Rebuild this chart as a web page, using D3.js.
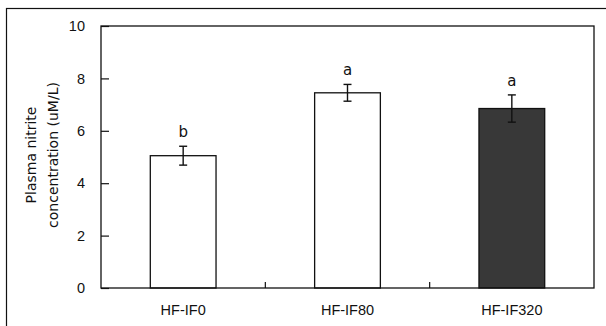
<!DOCTYPE html>
<html>
<head>
<meta charset="utf-8">
<script src="https://cdn.jsdelivr.net/npm/d3@7"></script>
<style>
  html, body { margin: 0; padding: 0; background: #fff; }
  svg { display: block; }
  text { font-family: "Liberation Sans", Arial, sans-serif; fill: #111; }
</style>
</head>
<body>
<script>
// ---- data ----
const categories = ["HF-IF0", "HF-IF80", "HF-IF320"];
const values = [5.05, 7.45, 6.85];
const errors = [0.36, 0.32, 0.52];
const letters = ["b", "a", "a"];
const fills = ["#ffffff", "#ffffff", "#383838"];
const yTicks = [0, 2, 4, 6, 8, 10];
const yLabelLines = ["Plasma nitrite", "concentration (uM/L)"];

// ---- layout ----
const W = 606, H = 326;
const margin = { left: 101, top: 26, right: 12, bottom: 38 };
const plotW = W - margin.left - margin.right; // 493
const plotH = H - margin.top - margin.bottom; // 262

const svg = d3.select("body").append("svg")
  .attr("width", W).attr("height", H);

// outer frame (right & bottom run off the picture)
svg.append("rect")
  .attr("x", 6.5).attr("y", 8.5)
  .attr("width", 610).attr("height", 340)
  .attr("fill", "none").attr("stroke", "#111").attr("stroke-width", 1.2);

const g = svg.append("g").attr("transform", `translate(${margin.left},${margin.top})`);

const x = d3.scaleBand().domain(categories).range([0, plotW]).paddingInner(0.6).paddingOuter(0.3);
const y = d3.scaleLinear().domain([0, 10]).range([plotH, 0]);

// bars
g.selectAll("rect.bar").data(categories).join("rect")
  .attr("class", "bar")
  .attr("x", d => x(d))
  .attr("y", (d, i) => y(values[i]))
  .attr("width", x.bandwidth())
  .attr("height", (d, i) => plotH - y(values[i]))
  .attr("fill", (d, i) => fills[i])
  .attr("stroke", "#111").attr("stroke-width", 1.3);

// error bars
const capW = 8;
const eb = g.selectAll("g.err").data(categories).join("g").attr("class", "err")
  .attr("transform", d => `translate(${x(d) + x.bandwidth() / 2},0)`);
eb.append("line")
  .attr("y1", (d, i) => y(values[i] + errors[i]))
  .attr("y2", (d, i) => y(values[i] - errors[i]))
  .attr("stroke", "#111").attr("stroke-width", 1.4);
eb.append("line")
  .attr("x1", -capW / 2).attr("x2", capW / 2)
  .attr("y1", (d, i) => y(values[i] + errors[i]))
  .attr("y2", (d, i) => y(values[i] + errors[i]))
  .attr("stroke", "#111").attr("stroke-width", 1.4);
eb.append("line")
  .attr("x1", -capW / 2).attr("x2", capW / 2)
  .attr("y1", (d, i) => y(values[i] - errors[i]))
  .attr("y2", (d, i) => y(values[i] - errors[i]))
  .attr("stroke", "#111").attr("stroke-width", 1.4);
eb.append("text")
  .attr("y", (d, i) => y(values[i] + errors[i]) - 9)
  .attr("text-anchor", "middle")
  .style("font-family", '"DejaVu Sans", sans-serif')
  .style("font-size", "15px")
  .text((d, i) => letters[i]);

// plot frame
g.append("rect")
  .attr("x", 0).attr("y", 0).attr("width", plotW).attr("height", plotH)
  .attr("fill", "none").attr("stroke", "#111").attr("stroke-width", 1.3);

// y axis
const yAxis = d3.axisLeft(y).tickValues(yTicks).tickFormat(d3.format("d"))
  .tickSizeInner(-8).tickSizeOuter(0).tickPadding(16);
const ya = g.append("g").call(yAxis);
ya.select(".domain").remove();
ya.selectAll("line").attr("stroke", "#111").attr("stroke-width", 1.2);
ya.selectAll("text").style("font-size", "14.5px").style("font-family", '"Liberation Sans", Arial, sans-serif').attr("fill", "#111");

// x axis: labels at band centres, ticks at band boundaries
const xAxis = d3.axisBottom(x).tickSize(0).tickPadding(17);
const xa = g.append("g").attr("transform", `translate(0,${plotH})`).call(xAxis);
xa.select(".domain").remove();
xa.selectAll("text").style("font-size", "14.5px").style("font-family", '"Liberation Sans", Arial, sans-serif').attr("fill", "#111");
const boundaries = categories.slice(1).map(c => x(c) - x.step() * x.paddingInner() / 2);
g.selectAll("line.xtick").data(boundaries).join("line")
  .attr("class", "xtick")
  .attr("x1", d => d).attr("x2", d => d)
  .attr("y1", plotH).attr("y2", plotH - 6)
  .attr("stroke", "#111").attr("stroke-width", 1.2);

// y label
const yl = svg.append("text")
  .attr("transform", `translate(0,${margin.top + plotH / 2 - 2}) rotate(-90)`)
  .attr("text-anchor", "middle")
  .style("font-family", '"DejaVu Sans", sans-serif')
  .style("font-size", "14px");
yl.selectAll("tspan").data(yLabelLines).join("tspan")
  .attr("x", 0)
  .attr("y", (d, i) => 36 + i * 22)
  .text(d => d);
</script>
</body>
</html>
